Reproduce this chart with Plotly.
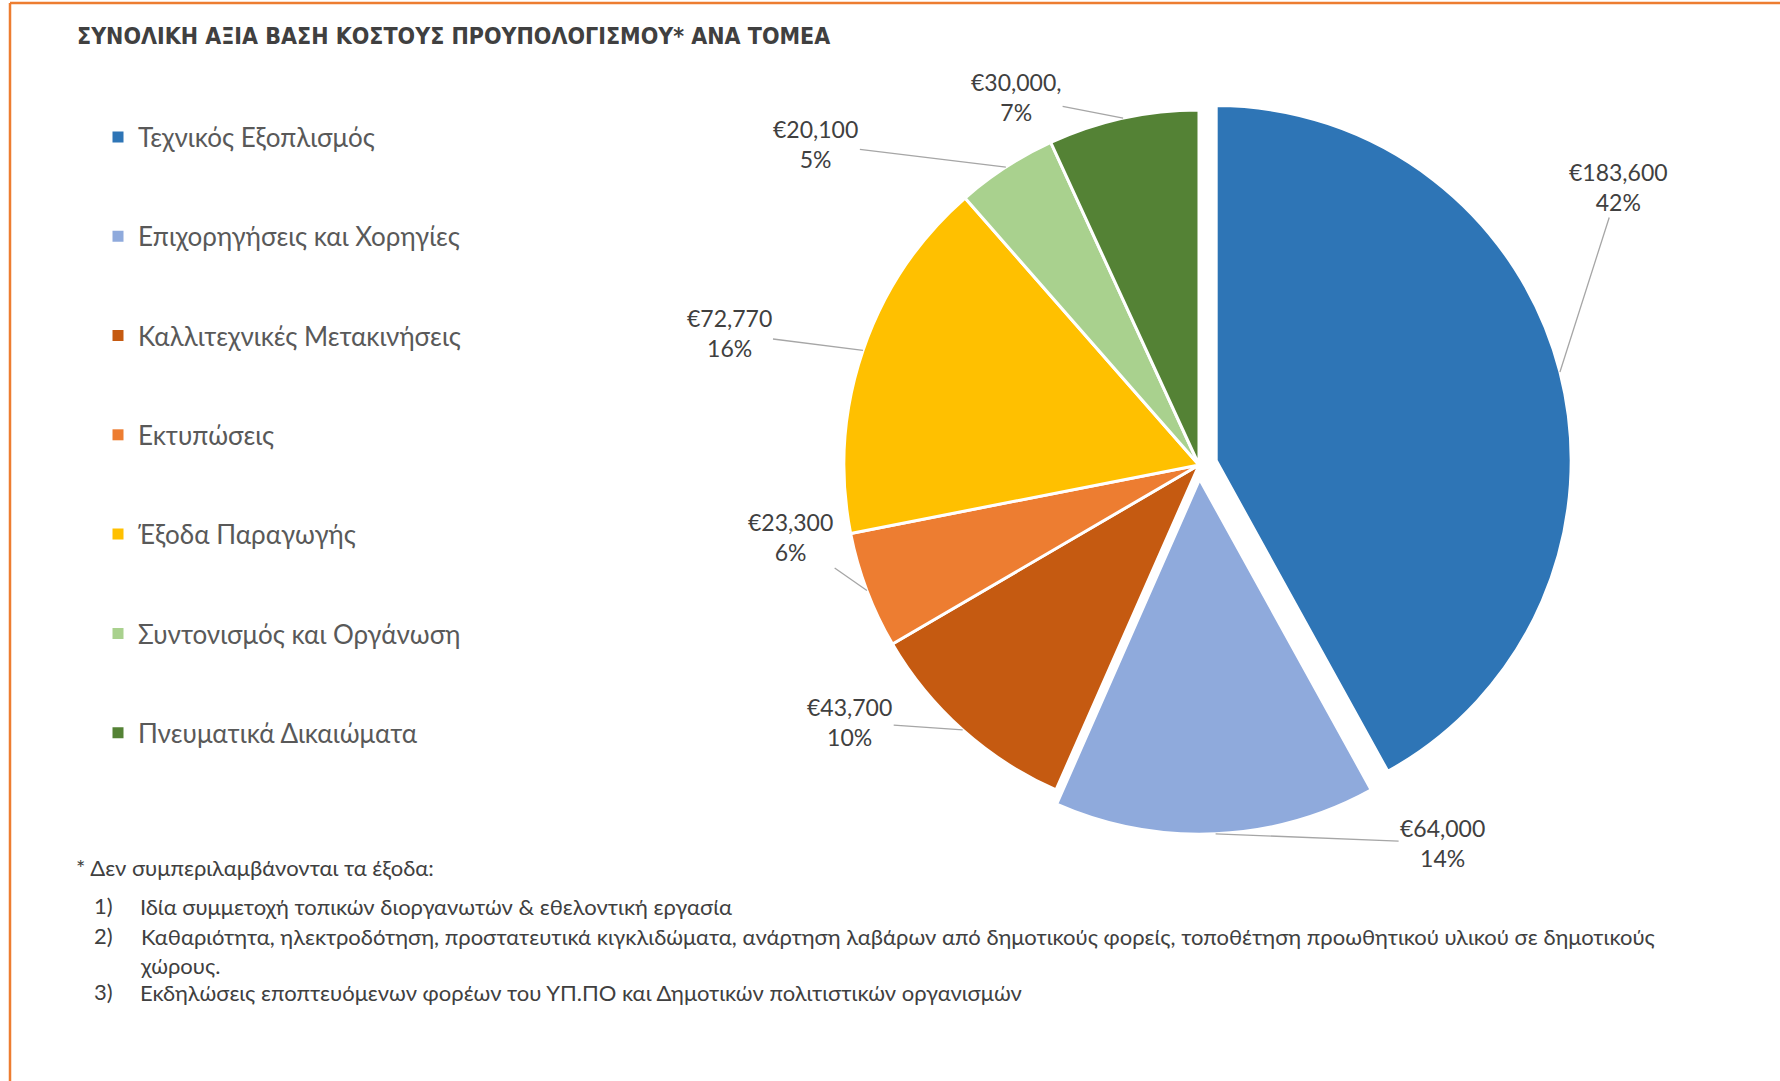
import math
import plotly.graph_objects as go

# ---------------- data ----------------
categories = [
    "Τεχνικός Εξοπλισμός",
    "Επιχορηγήσεις και Χορηγίες",
    "Καλλιτεχνικές Μετακινήσεις",
    "Εκτυπώσεις",
    "Έξοδα Παραγωγής",
    "Συντονισμός και Οργάνωση",
    "Πνευματικά Δικαιώματα",
]
values = [183600, 64000, 43700, 23300, 72770, 20100, 30000]
value_labels = ["€183,600", "€64,000", "€43,700", "€23,300", "€72,770", "€20,100", "€30,000,"]
percent_labels = ["42%", "14%", "10%", "6%", "16%", "5%", "7%"]

title_text = "ΣΥΝΟΛΙΚΗ ΑΞΙΑ ΒΑΣΗ ΚΟΣΤΟΥΣ ΠΡΟΥΠΟΛΟΓΙΣΜΟΥ* ΑΝΑ ΤΟΜΕΑ"
note_header = "* Δεν συμπεριλαμβάνονται τα έξοδα:"
note_numbers = ["1)", "2)", "3)"]
note_texts = [
    "Ιδία συμμετοχή τοπικών διοργανωτών & εθελοντική εργασία",
    "Καθαριότητα, ηλεκτροδότηση, προστατευτικά κιγκλιδώματα, ανάρτηση λαβάρων από δημοτικούς φορείς, τοποθέτηση προωθητικού υλικού σε δημοτικούς<br>χώρους.",
    "Εκδηλώσεις εποπτευόμενων φορέων του ΥΠ.ΠΟ και Δημοτικών πολιτιστικών οργανισμών",
]

# ---------------- style / layout ----------------
colors = ["#2E75B6", "#8FAADC", "#C55A11", "#ED7D31", "#FFC000", "#A9D18E", "#548235"]
pulls = [0.05, 0.04, 0, 0, 0, 0, 0]
# pixel offsets of each data label from its leader-line anchor on the rim
label_offsets = [(59, -185), (227, 9), (-113, -8), (-76, -53), (-134, -17), (-190, -23), (-107, -21)]

W, H = 1780, 1081
CX, CY, R = 1199, 465, 355  # pie centre (px) and radius (px)
max_pull = max(pulls)
half = R * (1 + max_pull)
dom_x = [(CX - half) / W, (CX + half) / W]
dom_y = [(H - CY - half) / H, (H - CY + half) / H]

FONT = "Lato, 'Noto Sans', sans-serif"
TEXT_GREY = "#595959"
DARK = "#404040"
ORANGE = "#ED7D31"
NOTE_SIZE = 22

fig = go.Figure()

fig.add_trace(go.Pie(
    labels=categories,
    values=values,
    sort=False,
    direction="clockwise",
    rotation=0,
    pull=pulls,
    marker=dict(colors=colors, line=dict(color="white", width=3)),
    textinfo="none",
    hoverinfo="label+value+percent",
    showlegend=False,
    domain=dict(x=dom_x, y=dom_y),
))

# legend entries (no data drawn) so the legend can be spaced like the reference
for cat, col in zip(categories, colors):
    fig.add_trace(go.Scatter(
        x=[None], y=[None], mode="markers", name=cat, legendgroup=cat,
        marker=dict(symbol="square", size=11, color=col),
        showlegend=True, hoverinfo="skip",
    ))

# data labels with leader lines, anchored at each slice's mid-angle on the rim
total = sum(values)
annotations = []
cum = 0.0
for v, vl, pl, p, (ox, oy) in zip(values, value_labels, percent_labels, pulls, label_offsets):
    mid = (cum + v / 2) / total * 2 * math.pi
    cum += v
    rr = R * (1 + p)
    px = CX + rr * math.sin(mid)
    py = CY - rr * math.cos(mid)
    annotations.append(dict(
        x=px / W, y=1 - py / H, xref="paper", yref="paper",
        text=f"{vl}<br>{pl}", showarrow=True, arrowhead=0, arrowwidth=1.3,
        arrowcolor="#A6A6A6", ax=ox, ay=oy, standoff=0,
        font=dict(family=FONT, size=23, color=DARK), align="center",
    ))

# footnotes
annotations.append(dict(
    x=74 / W, y=1 - 867.5 / H, xref="paper", yref="paper", xanchor="left", yanchor="middle",
    text=note_header, showarrow=False, font=dict(family=FONT, size=NOTE_SIZE, color=DARK),
))
note_rows = [905.5, 935.5, 991.5]
for num, txt, ry in zip(note_numbers, note_texts, note_rows):
    annotations.append(dict(
        x=92 / W, y=1 - ry / H, xref="paper", yref="paper", xanchor="left", yanchor="middle",
        text=num, showarrow=False, font=dict(family=FONT, size=NOTE_SIZE, color=DARK),
    ))
    annotations.append(dict(
        x=138 / W, y=1 - (ry - 0.65 * NOTE_SIZE) / H, xref="paper", yref="paper",
        xanchor="left", yanchor="top",
        text=txt, showarrow=False, align="left",
        font=dict(family=FONT, size=NOTE_SIZE, color=DARK),
    ))

shapes = [
    dict(type="line", xref="paper", yref="paper", x0=10 / W, x1=1, y0=1 - 3 / H, y1=1 - 3 / H,
         line=dict(color=ORANGE, width=2.5)),
    dict(type="line", xref="paper", yref="paper", x0=10 / W, x1=10 / W, y0=0, y1=1 - 3 / H,
         line=dict(color=ORANGE, width=2.5)),
]

fig.update_layout(
    width=W, height=H,
    margin=dict(l=0, r=0, t=0, b=0),
    paper_bgcolor="white", plot_bgcolor="white",
    title=dict(
        text=f"<b>{title_text}</b>", x=77 / W, xanchor="left", xref="paper",
        y=1 - 36 / H, yanchor="middle", yref="container",
        font=dict(family="'Liberation Sans Narrow', 'DejaVu Sans Condensed', sans-serif", size=23, color=DARK),
    ),
    xaxis=dict(visible=False), yaxis=dict(visible=False),
    legend=dict(
        x=98 / W, xanchor="left", y=0.895, yanchor="top",
        font=dict(family=FONT, size=26, color=TEXT_GREY),
        traceorder="grouped", tracegroupgap=62.5, bgcolor="rgba(0,0,0,0)",
    ),
    annotations=annotations,
    shapes=shapes,
)

fig.write_html(
    "out.html",
    config={"displayModeBar": False},
    post_script="document.body.style.margin='0';",
)
